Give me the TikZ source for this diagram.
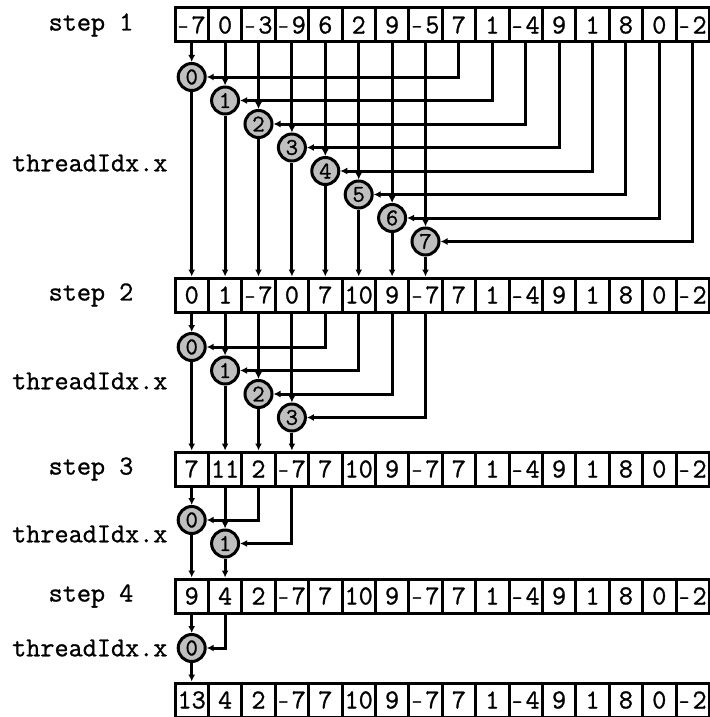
\documentclass[tikz,border=0pt]{standalone}
\usepackage{fontspec}
\newfontfamily\cour{Latin Modern Mono}[FakeBold=1.0]
\newcommand\mneg{{\fontsize{21}{21}\selectfont -}\kern3pt}
\usetikzlibrary{arrows.meta}
\tikzset{
  cell/.style={draw, line width=3pt, minimum width=33.4pt, minimum height=34pt, inner sep=0pt,
    font=\cour\fontsize{27.4}{27.4}\selectfont},
  thr/.style={circle, draw, line width=3pt, fill=black!25, minimum size=27pt, inner sep=0pt,
    font=\cour\fontsize{24}{24}\selectfont},
  wire/.style={line width=3pt, -{Latex[length=7pt,width=7pt]}},
  lab/.style={font=\cour\fontsize{27.4}{27.4}\selectfont, inner sep=0pt}
}
\begin{document}
\begin{tikzpicture}[x=1pt,y=-1pt]
\useasboundingbox (0,0) rectangle (709,717);
% arrays
\foreach \r/\y/\vals in {
  1/25/{\mneg7,0,\mneg3,\mneg9,6,2,9,\mneg5,7,1,\mneg4,9,1,8,0,\mneg2},
  2/295/{0,1,\mneg7,0,7,10,9,\mneg7,7,1,\mneg4,9,1,8,0,\mneg2},
  3/469/{7,11,2,\mneg7,7,10,9,\mneg7,7,1,\mneg4,9,1,8,0,\mneg2},
  4/596/{9,4,2,\mneg7,7,10,9,\mneg7,7,1,\mneg4,9,1,8,0,\mneg2},
  5/700/{13,4,2,\mneg7,7,10,9,\mneg7,7,1,\mneg4,9,1,8,0,\mneg2}} {
  \foreach \v [count=\i from 0] in \vals {
    \node[cell] (c\r-\i) at ({191.7+33.4*\i},\y) {\v};
  }
}
% labels
\node[lab] (s1) at (91,25) {step 1};
\node[lab] (s2) at (91,295) {step 2};
\node[lab] (s3) at (91,469) {step 3};
\node[lab] (s4) at (91,596) {step 4};
\node[lab, anchor=west] (h1) at (12,163) {threadIdx.x};
\node[lab, anchor=west] (h2) at (12,381) {threadIdx.x};
\node[lab, anchor=west] (h3) at (12,534) {threadIdx.x};
\node[lab, anchor=west] (h4) at (12,648) {threadIdx.x};
% threads and wires
\foreach \r/\n/\yb in {1/8/77,2/4/347,3/2/520,4/1/648} {
  \pgfmathtruncatemacro\nx{\r+1}
  \pgfmathtruncatemacro\m{\n-1}
  \foreach \i in {0,...,\m} {
    \node[thr] (t\r-\i) at ({191.7+33.4*\i},{\yb+23.5*\i}) {\i};
    \pgfmathtruncatemacro\j{\i+\n}
    \draw[wire] (c\r-\i.south) -- (t\r-\i.north);
    \draw[wire] (t\r-\i.south) -- (c\nx-\i.north);
    \draw[wire] (c\r-\j.south) |- (t\r-\i.east);
  }
}
\end{tikzpicture}
\end{document}
